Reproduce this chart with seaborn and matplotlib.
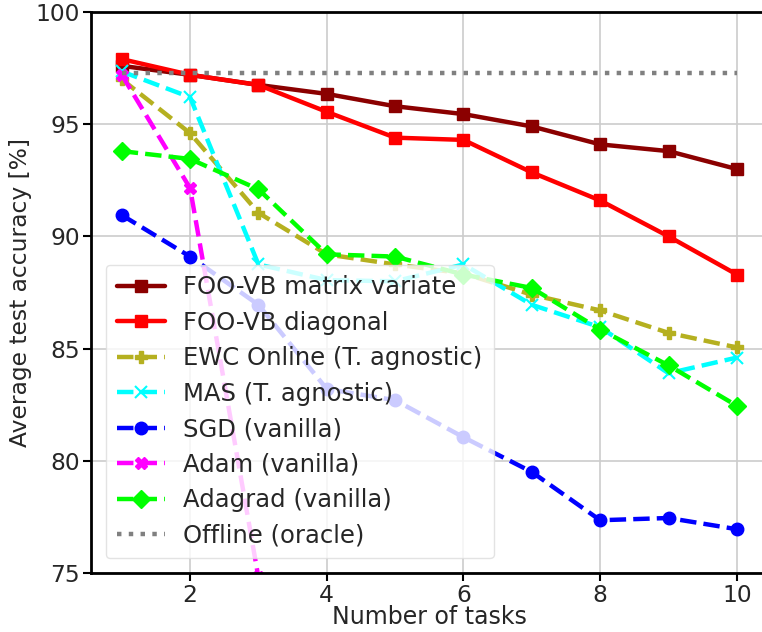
import numpy as np
import pandas as pd
import matplotlib
matplotlib.use("Agg")
import matplotlib.pyplot as plt
import seaborn as sns

tasks = [1, 2, 3, 4, 5, 6, 7, 8, 9, 10]
foo_vb_matrix = [97.6, 97.2, 96.75, 96.35, 95.8, 95.45, 94.9, 94.1, 93.8, 93.0]
foo_vb_diag = [97.9, 97.2, 96.75, 95.55, 94.4, 94.3, 92.85, 91.6, 90.0, 88.3]
ewc_online = [97.0, 94.6, 91.05, 89.2, 88.75, 88.35, 87.4, 86.7, 85.7, 85.05]
mas = [97.35, 96.2, 88.75, 88.05, 88.0, 88.75, 86.95, 85.95, 83.9, 84.6]
sgd = [90.95, 89.1, 86.95, 83.2, 82.7, 81.05, 79.5, 77.35, 77.45, 76.95]
adam = [97.2, 92.15, 74.8, 70.5, 66.0, 62.0, 58.5, 55.0, 52.0, 49.0]
adagrad = [93.8, 93.45, 92.1, 89.2, 89.1, 88.3, 87.7, 85.85, 84.25, 82.45]
offline = [97.3] * 10

labels = ["FOO-VB matrix variate", "FOO-VB diagonal", "EWC Online (T. agnostic)",
          "MAS (T. agnostic)", "SGD (vanilla)", "Adam (vanilla)",
          "Adagrad (vanilla)", "Offline (oracle)"]
series = [foo_vb_matrix, foo_vb_diag, ewc_online, mas, sgd, adam, adagrad, offline]
colors = ["#8b0000", "#ff0000", "#b5b020", "#00ffff", "#0000ff", "#ff00ff", "#00ff00", "#808080"]
markers = ["s", "s", "P", "x", "o", "X", "D", None]
styles = ["-", "-", "--", "--", "--", "--", "--", ":"]

sns.set_theme(style="whitegrid")
plt.rcParams["font.family"] = ["DejaVu Sans"]

fig = plt.figure(figsize=(7.62, 6.32), dpi=100)
ax = fig.add_axes([0.1194, 0.0934, 0.888, 0.8876])

for lab, vals, c, m, ls in zip(labels, series, colors, markers, styles):
    df = pd.DataFrame({"tasks": tasks, "acc": vals})
    sns.lineplot(data=df, x="tasks", y="acc", ax=ax, color=c, marker=m,
                 linestyle=ls, linewidth=3.2, markersize=9 if m not in ("x",) else 8,
                 markeredgecolor=c, markeredgewidth=1.5 if m == "x" else 1,
                 label=lab)

ax.set_xlim(0.55, 10.45)
ax.set_ylim(75, 100)
ax.set_xticks([2, 4, 6, 8, 10])
ax.set_yticks([75, 80, 85, 90, 95, 100])
ax.tick_params(axis="both", labelsize=16.8, direction="out", length=6, width=1.5,
               color="black", left=True, bottom=True, pad=2)
ax.set_xlabel("Number of tasks", fontsize=17, labelpad=-1.5)
ax.set_ylabel("Average test accuracy [%]", fontsize=16.8)
ax.yaxis.set_label_coords(-0.087, 0.5)
ax.grid(True, color="#cccccc", linewidth=1.2)
for s in ["left", "bottom", "top", "right"]:
    ax.spines[s].set_color("black")
    ax.spines[s].set_linewidth(2)
ax.set_facecolor("white")

leg = ax.legend(loc="lower left", fontsize=17.5, framealpha=0.8, handlelength=2,
                labelspacing=0.47, borderpad=0.45, handletextpad=0.75,
                borderaxespad=0.6)
leg.get_frame().set_edgecolor("#dddddd")

fig.savefig("out.png", dpi=100)
